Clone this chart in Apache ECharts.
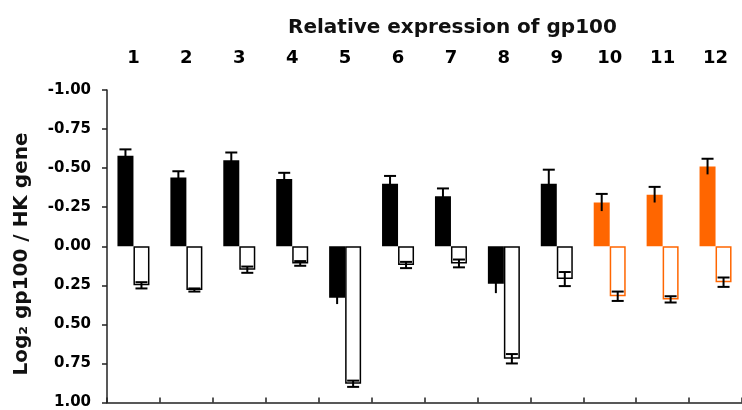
<!DOCTYPE html>
<html><head><meta charset="utf-8">
<script src="https://cdn.jsdelivr.net/npm/echarts@6/dist/echarts.min.js"></script>
<style>html,body{margin:0;padding:0;background:#fff}#c{width:742px;height:410px}</style>
</head><body><div id="c"></div>
<script>
// ---- data ----
const categories = ['1','2','3','4','5','6','7','8','9','10','11','12'];
const seriesAValues = [-0.58, -0.44, -0.55, -0.43, 0.33, -0.40, -0.32, 0.24, -0.40, -0.28, -0.33, -0.51];
const seriesAErrors = [0.04, 0.04, 0.05, 0.04, 0.04, 0.05, 0.05, 0.06, 0.09, 0.055, 0.05, 0.05];
const seriesBValues = [0.25, 0.28, 0.15, 0.11, 0.88, 0.12, 0.11, 0.72, 0.21, 0.32, 0.34, 0.23];
const seriesBErrors = [0.02, 0.01, 0.02, 0.015, 0.02, 0.02, 0.025, 0.03, 0.045, 0.03, 0.02, 0.03];
const highlightedCategories = ['10','11','12'];
const yTicks = [-1.00, -0.75, -0.50, -0.25, 0.00, 0.25, 0.50, 0.75, 1.00];
const titleText = 'Relative expression of gp100';
const yAxisTitle = 'Log\u2082 gp100 / HK gene';

// ---- styling ----
const BLACK = '#000000', ORANGE = '#ff6600', AXIS = '#222222';
const BAR_W = 16;
const FONT = 'DejaVu Sans';
const isHi = c => highlightedCategories.indexOf(c) >= 0;

const barA = seriesAValues.map((v, i) => ({
  value: v, itemStyle: { color: isHi(categories[i]) ? ORANGE : BLACK }
}));
const barB = seriesBValues.map((v, i) => ({
  value: v, itemStyle: { color: '#ffffff', borderColor: isHi(categories[i]) ? ORANGE : BLACK, borderWidth: 1.5 }
}));
const errA = seriesAValues.map((v, i) => [i, v, seriesAErrors[i]]);
const errB = seriesBValues.map((v, i) => [i, v, seriesBErrors[i]]);

function makeErrRenderer(side, bothCaps) {
  return function (params, api) {
    const i = api.value(0), v = api.value(1), e = api.value(2);
    const x = api.coord([i, v])[0] + side * BAR_W / 2;
    const yA = api.coord([i, v - e])[1];
    const yB = api.coord([i, v + e])[1];
    const st = { stroke: BLACK, lineWidth: 2 };
    const cw = 6;
    const children = [{ type: 'line', shape: { x1: x, y1: yA, x2: x, y2: yB }, style: st }];
    if (bothCaps) {
      children.push({ type: 'line', shape: { x1: x - cw, y1: yA, x2: x + cw, y2: yA }, style: st });
      children.push({ type: 'line', shape: { x1: x - cw, y1: yB, x2: x + cw, y2: yB }, style: st });
    } else if (v < 0) {
      children.push({ type: 'line', shape: { x1: x - cw, y1: yA, x2: x + cw, y2: yA }, style: st });
    }
    return { type: 'group', children: children };
  };
}

const chart = echarts.init(document.getElementById('c'), null, { renderer: 'canvas' });
chart.setOption({
  animation: false,
  backgroundColor: '#ffffff',
  title: {
    text: titleText, left: 283, top: 13,
    textStyle: { fontFamily: FONT, fontWeight: 'bold', fontSize: 20, color: '#111' }
  },
  graphic: [{
    type: 'text', x: 22, y: 254, rotation: Math.PI / 2,
    style: { text: yAxisTitle, fontFamily: FONT, fontWeight: 'bold', fontSize: 20, fill: '#111', align: 'center', verticalAlign: 'middle' }
  }],
  grid: { left: 107, right: -2, top: 90, bottom: 3, containLabel: false },
  xAxis: [{
    type: 'category', data: categories, position: 'top',
    axisLine: { show: false }, axisTick: { show: false },
    axisLabel: { fontFamily: FONT, fontWeight: 'bold', fontSize: 18, color: '#000', margin: 23 }
  }, {
    type: 'category', data: categories, position: 'bottom',
    axisLine: { show: true, onZero: true, lineStyle: { color: AXIS, width: 1.5 } },
    axisTick: { show: true, inside: true, length: 5, lineStyle: { color: AXIS, width: 1.5 } },
    axisLabel: { show: false }
  }],
  yAxis: {
    type: 'value', inverse: true,
    min: yTicks[0], max: yTicks[yTicks.length - 1], interval: yTicks[1] - yTicks[0],
    axisLine: { show: true, lineStyle: { color: AXIS, width: 1.5 } },
    axisTick: { show: true, length: 5, lineStyle: { color: AXIS, width: 1.5 } },
    splitLine: { show: false },
    axisLabel: { formatter: v => v.toFixed(2), fontFamily: FONT, fontWeight: 'bold', fontSize: 15, color: '#000', margin: 16 }
  },
  series: [
    { type: 'bar', name: 'A', xAxisIndex: 1, data: barA, barWidth: BAR_W, barGap: '0%', z: 2 },
    { type: 'bar', name: 'B', xAxisIndex: 1, data: barB, barWidth: BAR_W, barGap: '0%', z: 2 },
    { type: 'custom', name: 'errA', xAxisIndex: 1, data: errA, renderItem: makeErrRenderer(-1, false), z: 5, clip: false },
    { type: 'custom', name: 'errB', xAxisIndex: 1, data: errB, renderItem: makeErrRenderer(1, true), z: 5, clip: false }
  ]
});
</script>
</body></html>
